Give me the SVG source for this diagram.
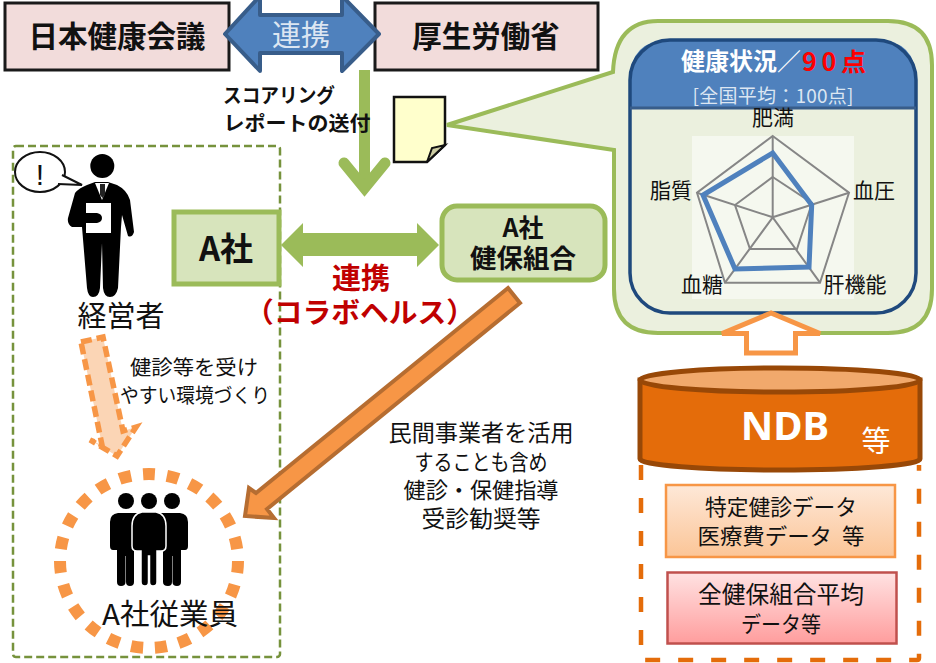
<svg xmlns="http://www.w3.org/2000/svg" width="936" height="663" viewBox="0 0 936 663">
<style>
text{font-family:"Noto Sans CJK JP","Noto Sans",sans-serif;text-anchor:middle;fill:#111}
.b{font-weight:700}
.pink{fill:#f2dcdb;stroke:#1a1a1a;stroke-width:3}
.g{fill:#d7e4bc;stroke:#9bbb59;stroke-width:5}
.blk{fill:#000}
.r{fill:none;stroke:#868686;stroke-width:2}
</style>
<defs>
<linearGradient id="go" x1="0" y1="0" x2="0" y2="1"><stop offset="0" stop-color="#fee8d8"/><stop offset="1" stop-color="#fbc597"/></linearGradient>
<linearGradient id="gr" x1="0" y1="0" x2="0" y2="1"><stop offset="0" stop-color="#ffe2e2"/><stop offset="1" stop-color="#ff9d9d"/></linearGradient>
</defs>
<g id="company-area"><rect x="13" y="146" width="267" height="511" rx="3" fill="none" stroke="#76923c" stroke-width="2.5" stroke-dasharray="8 4"/></g>
<g id="kenko-kaigi"><rect class="pink" x="5" y="3" width="224" height="67"/><text class="b" x="117" y="47" font-size="29.500">日本健康会議</text></g>
<g id="mhlw"><rect class="pink" x="375" y="3" width="223" height="67"/><text class="b" x="486" y="47" font-size="29.500">厚生労働省</text></g>
<g id="document">
<path d="M394 97H445V145L427 162H394Z" fill="#ffffcc" stroke="#111" stroke-width="2.500"/>
<path d="M427 162L432 148L445 145Z" fill="#cdcda3" stroke="#111" stroke-width="2"/>
</g>
<g id="a-company"><rect class="g" x="174" y="212" width="105" height="72"/><text class="b" x="226" y="261" font-size="33">A社</text></g>
<g id="a-kenpo"><rect class="g" x="442" y="206" width="163" height="74" rx="15"/><text class="b" x="523" y="237" font-size="25">A社</text><text class="b" x="523" y="268" font-size="26.500">健保組合</text></g>
<g id="manager">
<ellipse cx="40" cy="172" rx="25" ry="20" fill="#fff" stroke="#111" stroke-width="2"/>
<path d="M62 175L82 185L58 184" fill="#fff" stroke="#111" stroke-width="2"/>
<text x="40" y="185" font-size="30" style="font-family:'Liberation Sans',sans-serif">!</text>
<circle cx="102.300" cy="166" r="12" class="blk"/>
<path d="M87 185L95 182H108L117 185Q127 190 130 200L134 232Q132 238 128 236L122 215L121 227L118 288Q116 297 110 297Q104 297 103 288L102 243L100 288Q99 297 93 297Q88 297 87 288L82 227H72Q67 224 68 218L75 193Q79 188 87 185Z" class="blk"/>
<path d="M95 183H109L102 200Z" fill="#fff"/>
<path d="M100 184H105V195L102.500 198L100 195Z" fill="#222"/>
<path d="M86 203H111V233H86Z" fill="#fff"/>
<path d="M74 213H97Q102 214 102 218Q102 222 97 223H72Z" class="blk"/>
<text x="121" y="327" font-size="29">経営者</text>
</g>
<g id="employees">
<ellipse cx="149" cy="561" rx="89" ry="87" fill="none" stroke="#f79646" stroke-width="12" stroke-dasharray="12 12"/>
<circle cx="126" cy="501" r="8" class="blk"/><circle cx="172" cy="501" r="8" class="blk"/>
<path d="M118 513H136Q141 514 146 518V550H134V582Q134 586 130 586Q126 586 126 582V556H125.500V582Q125.500 586 121 586Q117 586 117 582V550H113Q110 550 110 546V522Q110 514 118 513Z" class="blk"/>
<path d="M162 513H180Q188 514 188 522V546Q188 550 185 550H181V582Q181 586 177 586Q172.500 586 172.500 582V556H172V582Q172 586 168 586Q163 586 163 582V550H152V518Q157 514 162 513Z" class="blk"/>
<circle cx="149" cy="501" r="8" class="blk"/>
<path d="M142 512H156Q166 514 166 526V546Q166 551 161 551H157V582Q157 586 153 586Q149.500 586 149.500 582V556H148.500V582Q148.500 586 145 586Q141 586 141 582V551H137Q132 551 132 546V526Q132 514 142 512Z" class="blk" stroke="#fff" stroke-width="1.500"/>
<text x="170" y="625" font-size="29" textLength="136" lengthAdjust="spacingAndGlyphs">A社従業員</text>
</g>
<g id="env-label"><text x="194" y="375" font-size="20" textLength="128" lengthAdjust="spacingAndGlyphs">健診等を受け</text><text x="195" y="403" font-size="20" textLength="150" lengthAdjust="spacingAndGlyphs">やすい環境づくり</text></g>
<g id="delivery-label"><text x="481" y="441" font-size="23" textLength="185" lengthAdjust="spacingAndGlyphs">民間事業者を活用</text><text x="481" y="470" font-size="22" textLength="133" lengthAdjust="spacingAndGlyphs">することも含め</text><text x="481" y="498" font-size="22" textLength="155" lengthAdjust="spacingAndGlyphs">健診・保健指導</text><text x="481" y="527" font-size="23" textLength="119" lengthAdjust="spacingAndGlyphs">受診勧奨等</text></g>
<g id="report-callout">
<path d="M658 21H888Q932 21 932 65V289Q932 333 888 333H658Q614 333 614 289V150L447 125L613 72Q615 21 658 21Z" fill="#ebf0de" stroke="#9bbb59" stroke-width="4"/>
<path d="M670 40H876Q916 40 916 80V108H630V80Q630 40 670 40Z" fill="#4f81bd"/>
<rect x="630" y="40" width="286" height="273" rx="40" fill="none" stroke="#1f497d" stroke-width="3.500"/>
<path d="M630 108H916" stroke="#385d8a" stroke-width="3"/>
<text x="729" y="70" font-size="24" class="b" style="fill:#fff">健康状況</text>
<text x="789" y="70" font-size="24" style="fill:#fff">／</text>
<text x="834" y="71" font-size="25" class="b" style="fill:#ff0000" textLength="64">90点</text>
<text x="773" y="103" font-size="19" style="fill:#dce6f2" textLength="161">[全国平均：100点]</text>
<rect x="692" y="136" width="162" height="163" fill="#fff" opacity=".5"/>
<path class="r" d="M772.700 136L849 192.700L820 282.700H725L697 192.700Z"/>
<path class="r" d="M772.700 177L812 203L797 249H750L735 205Z"/>
<path class="r" d="M772.700 136V217.300M849 192.700L772.700 217.300M820 282.700L772.700 217.300M725 282.700L772.700 217.300M697 192.700L772.700 217.300"/>
<path d="M772.700 153L811.700 205L809 267L735 269L703 195Z" fill="none" stroke="#4f81bd" stroke-width="5"/>
<text x="773" y="125" font-size="21">肥満</text>
<text x="874" y="198" font-size="21">血圧</text>
<text x="855" y="292" font-size="21">肝機能</text>
<text x="702" y="292" font-size="21">血糖</text>
<text x="671" y="198" font-size="21">脂質</text>
</g>
<g id="data-area"><path d="M641 465V658Q641 660 643 660H917Q919 660 919 658V465" fill="none" stroke="#e46c0a" stroke-width="4.500" stroke-dasharray="15 18"/></g>
<g id="ndb">
<path d="M640 380V459A140 11 0 0 0 920 459V380Z" fill="#e46c0a" stroke="#984807" stroke-width="5"/>
<ellipse cx="780" cy="380" rx="140" ry="12" fill="#f1a96c" stroke="#984807" stroke-width="5"/>
<text class="b" x="785" y="440" font-size="40" style="fill:#fff;font-family:'Noto Sans',sans-serif">NDB</text>
<text x="876" y="452" font-size="29" style="fill:#fff">等</text>
</g>
<g id="data1"><rect x="666" y="485" width="229" height="72" fill="url(#go)" stroke="#f79646" stroke-width="2.500"/><text x="781" y="515" font-size="22" textLength="152" lengthAdjust="spacingAndGlyphs">特定健診データ</text><text x="781" y="544" font-size="22" xml:space="preserve" textLength="167" lengthAdjust="spacingAndGlyphs">医療費データ  等</text></g>
<g id="data2"><rect x="667.500" y="572.500" width="229" height="71" fill="url(#gr)" stroke="#c0504d" stroke-width="2.500"/><text x="781" y="603" font-size="24" textLength="166" lengthAdjust="spacingAndGlyphs">全健保組合平均</text><text x="781" y="632" font-size="22" textLength="80" lengthAdjust="spacingAndGlyphs">データ等</text></g>
<g id="connectors">
<path d="M225 34L260 -4V15H342V-4L379 34L342 71V53H260V71Z" fill="#4f81bd" stroke="#385d8a" stroke-width="4" stroke-linejoin="round"/>
<path d="M364.500 70V188" stroke="#9bbb59" stroke-width="11" fill="none"/>
<path d="M344 163L364.500 188L385 163" stroke="#9bbb59" stroke-width="11" fill="none" stroke-linecap="round"/>
<path d="M281 245L303 223V233H417V223L439 245L417 267V256H303V267Z" fill="#9bbb59"/>
<path d="M508 288L520 303L267 509L274 518L245 516L249 488L256 493Z" fill="#f79646" stroke="#b66d31" stroke-width="4"/>
<path d="M81 342L103 337L123 431L136 427L117 456L90 440L102 445Z" fill="#fbd5b5" stroke="#f79646" stroke-width="5.500" stroke-dasharray="11 5"/>
<path d="M771 313L722 333.500H746.500V353H795.500V333.500H820Z" fill="#fff" stroke="#f79646" stroke-width="5"/>
</g>
<text x="301" y="46" font-size="29" style="fill:#dce6f2">連携</text>
<g id="scoring-label"><text class="b" x="279" y="103" font-size="20" textLength="112" lengthAdjust="spacingAndGlyphs">スコアリング</text><text class="b" x="297" y="131" font-size="20" textLength="147" lengthAdjust="spacingAndGlyphs">レポートの送付</text></g>
<g id="collab-label"><text class="b" x="361" y="289" font-size="29" style="fill:#c00000">連携</text><text class="b" x="360" y="323" font-size="28" style="fill:#c00000" textLength="230" lengthAdjust="spacingAndGlyphs">（コラボヘルス）</text></g>
</svg>
